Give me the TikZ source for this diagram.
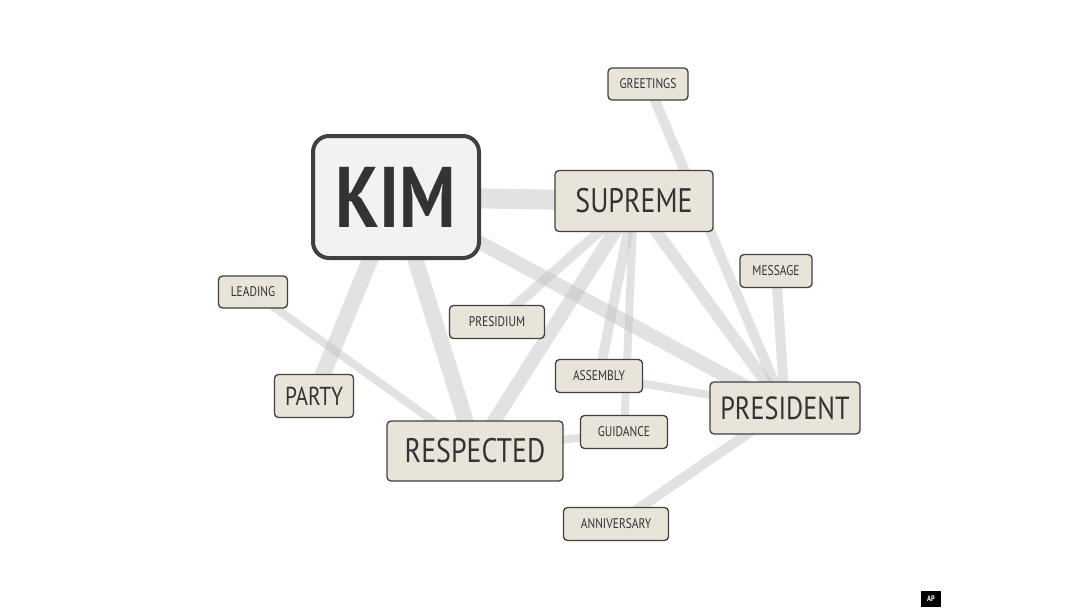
\documentclass[tikz,border=0pt]{standalone}
\usepackage{fontspec}
\setmainfont{PT Sans}[FakeStretch=0.82]
\usetikzlibrary{backgrounds}
\begin{document}
\begin{tikzpicture}[x=1pt,y=-1pt,
  box/.style={draw=black!75,line width=1.3pt,fill={rgb,255:red,232;green,228;blue,218},rounded corners=4pt,inner sep=0pt,text=black!80},
  sm/.style={box,font=\fontsize{14}{14}\selectfont},
  lg/.style={box,font=\fontsize{34}{34}\selectfont},
  ln/.style={draw={rgb,255:red,190;green,190;blue,190},opacity=0.45,line cap=butt}]
\useasboundingbox (0,0) rectangle (1080,608);
\node[box,line width=4pt,rounded corners=16pt,fill=black!5,minimum width=166pt,minimum height=122pt,font=\bfseries\fontsize{86}{86}\selectfont] (kim) at (396,197) {KIM};
\node[lg,minimum width=158pt,minimum height=61pt] (sup) at (634,201) {SUPREME};
\node[sm,minimum width=80pt,minimum height=32pt] (gre) at (648,84) {GREETINGS};
\node[sm,minimum width=72pt,minimum height=33pt] (mes) at (776,271) {MESSAGE};
\node[sm,minimum width=69pt,minimum height=32pt] (lea) at (253,292) {LEADING};
\node[sm,minimum width=95pt,minimum height=33pt] (pres) at (497,322) {PRESIDIUM};
\node[sm,minimum width=87pt,minimum height=33pt] (ass) at (599,376) {ASSEMBLY};
\node[box,font=\fontsize{26}{26}\selectfont,minimum width=79pt,minimum height=43pt] (par) at (314,396) {PARTY};
\node[box,font=\fontsize{32}{32}\selectfont,minimum width=150pt,minimum height=52pt] (prd) at (785,408) {PRESIDENT};
\node[sm,minimum width=87pt,minimum height=33pt] (gui) at (624,432) {GUIDANCE};
\node[lg,minimum width=176pt,minimum height=60pt] (res) at (475,451) {RESPECTED};
\node[sm,minimum width=105pt,minimum height=33pt] (ann) at (616,524) {ANNIVERSARY};
\node[fill=black,text=white,inner sep=1.5pt,minimum width=20pt,minimum height=16pt,font=\bfseries\fontsize{8}{8}\selectfont] (ap) at (931,599) {AP};
\begin{scope}[on background layer]
\draw[ln,line width=20pt] (kim.center) -- (sup.center);
\draw[ln,line width=16pt] (kim.center) -- (par.center);
\draw[ln,line width=16pt] (kim.center) -- (res.center);
\draw[ln,line width=14pt] (kim.center) -- (prd.center);
\draw[ln,line width=8pt] (lea.center) -- (res.center);
\draw[ln,line width=14pt] (sup.center) -- (res.center);
\draw[ln,line width=10pt] (sup.center) -- (pres.center);
\draw[ln,line width=10pt] (sup.center) -- (ass.center);
\draw[ln,line width=8pt] (sup.center) -- (gui.center);
\draw[ln,line width=12pt] (sup.center) -- (prd.center);
\draw[ln,line width=10pt] (gre.center) -- (prd.center);
\draw[ln,line width=10pt] (mes.center) -- (prd.center);
\draw[ln,line width=8pt] (ass.center) -- (prd.center);
\draw[ln,line width=8pt] (res.center) -- (gui.center);
\draw[ln,line width=10pt] (ann.center) -- (prd.center);
\end{scope}
\end{tikzpicture}
\end{document}
